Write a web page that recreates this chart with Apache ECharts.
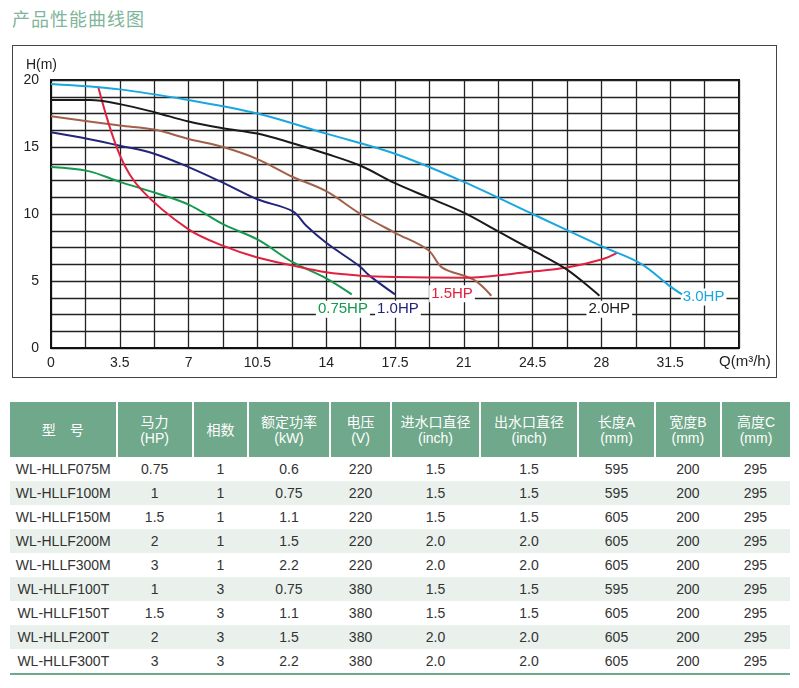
<!DOCTYPE html>
<html><head><meta charset="utf-8">
<script src="https://cdn.jsdelivr.net/npm/echarts@6/dist/echarts.min.js"></script>
<style>
body{margin:0;width:799px;height:688px;background:#fff;font-family:"Liberation Sans","Noto Sans CJK SC",sans-serif;position:relative;overflow:hidden}
#title{position:absolute;left:12px;top:5px;font-size:18px;color:#7fb59a;font-family:"Noto Sans CJK SC",sans-serif;letter-spacing:1px}
#chart{position:absolute;left:12px;top:45px;width:763px;height:331px;border:1.5px solid #444}
table{position:absolute;left:10px;top:402px;width:780px;border-collapse:collapse;font-size:14px;color:#333}
th{background:#6fa88a;color:#fff;font-weight:normal;height:53px;border-left:2px solid #fff;line-height:16px;font-family:"Liberation Sans","Noto Sans CJK SC",sans-serif}
th:first-child{border-left:none}
td{height:24px;text-align:center;padding:0}
tr.g td{background:#eaf1ed}
tbody tr:last-child td{border-bottom:2px solid #6fa88a}
</style></head><body>
<div id="title">产品性能曲线图</div>
<div id="chart"></div>
<table id="tbl"><thead><tr id="hd"></tr></thead><tbody id="bd"></tbody></table>
<script>
// Curves: [Q, H]
const hp075 = [[0,13.5],[1.9,13.2],[3.5,12.4],[5.25,11.6],[7,10.7],[8.8,9.2],[10.5,8.1],[12.3,6.4],[14,5.2],[15.3,4.0]];
const hp100 = [[0,16.1],[1.9,15.6],[3.5,15.1],[5.25,14.5],[7,13.5],[8.8,12.3],[10.5,11.1],[12.3,10.2],[13,9.1],[14,7.85],[15.7,6.1],[16.2,5.4],[17.5,4.0]];
const hp150 = [[2.4,19.5],[3.5,14.4],[4.6,11.8],[7,8.85],[8.8,7.6],[10.5,6.75],[12.3,6.15],[14,5.65],[15.75,5.4],[17.5,5.3],[21,5.25],[24.5,5.7],[26.25,6.0],[28,6.6],[28.8,7.1]];
const brown = [[0,17.3],[3.5,16.6],[5.25,16.3],[7,15.6],[8.75,15.0],[10.5,14.1],[12.25,12.8],[14,11.7],[15.75,10.0],[17.5,8.6],[19.2,7.3],[19.9,6.0],[21.5,5.1],[22.4,3.9]];
const hp200 = [[0,18.5],[2,18.5],[3.5,18.2],[5.25,17.6],[7,16.9],[8.75,16.4],[10.5,16.0],[12.25,15.3],[14,14.5],[15.75,13.6],[17.5,12.3],[19.25,11.2],[21,10.1],[22.75,8.7],[24.5,7.3],[26.25,5.85],[27.9,3.9]];
const hp300 = [[0,19.7],[3.5,19.3],[7,18.5],[10.5,17.5],[14,16.0],[17.5,14.5],[21,12.4],[24.5,10.0],[28,7.6],[30,6.3],[31.5,4.6],[32.1,4.0]];
const labelNames = ['0.75HP','1.0HP','1.5HP','2.0HP','3.0HP'];
const labelPos = [[14.85,2.9],[17.65,2.9],[20.4,4.05],[28.4,2.9],[33.2,3.8]];
const xTicks = [0,3.5,7,10.5,14,17.5,21,24.5,28,31.5];
const yTicks = [0,5,10,15,20];

const headers = ['型　号','马力<br>(HP)','相数','额定功率<br>(kW)','电压<br>(V)','进水口直径<br>(inch)','出水口直径<br>(inch)','长度A<br>(mm)','宽度B<br>(mm)','高度C<br>(mm)'];
const models = ['WL-HLLF075M','WL-HLLF100M','WL-HLLF150M','WL-HLLF200M','WL-HLLF300M','WL-HLLF100T','WL-HLLF150T','WL-HLLF200T','WL-HLLF300T'];
const power = ['0.75','1','1.5','2','3','1','1.5','2','3'];
const phase = ['1','1','1','1','1','3','3','3','3'];
const kw = ['0.6','0.75','1.1','1.5','2.2','0.75','1.1','1.5','2.2'];
const volt = ['220','220','220','220','220','380','380','380','380'];
const inlet = ['1.5','1.5','1.5','2.0','2.0','1.5','1.5','2.0','2.0'];
const outlet = ['1.5','1.5','1.5','2.0','2.0','1.5','1.5','2.0','2.0'];
const lenA = ['595','595','605','605','605','595','605','605','605'];
const widB = ['200','200','200','200','200','200','200','200','200'];
const hgtC = ['295','295','295','295','295','295','295','295','295'];
const colW = [107,76,55,82,61,89,100,76,65,69];

document.getElementById('hd').innerHTML = headers.map((h,i)=>`<th style="width:${colW[i]}px">${h}</th>`).join('');
document.getElementById('bd').innerHTML = models.map((m,i)=>`<tr class="${i%2?'g':''}">`+[m,power[i],phase[i],kw[i],volt[i],inlet[i],outlet[i],lenA[i],widB[i],hgtC[i]].map(v=>`<td>${v}</td>`).join('')+'</tr>').join('');

const colors = ['#139a4e','#22257a','#e0213f','#1a1a1a','#19a7df'];
const curves = [hp075,hp100,hp150,hp200,hp300];
const series = curves.map((d,i)=>({
  type:'line', data:d, smooth:0.35, showSymbol:false, z:5,
  lineStyle:{color:colors[i],width:2}, itemStyle:{color:colors[i]},
  markPoint:{symbol:'rect',symbolSize:1,itemStyle:{color:'transparent'},
    label:{show:true,formatter:labelNames[i],color:colors[i],fontSize:15,backgroundColor:'#fff',padding:[1,2],fontFamily:'Liberation Sans'},
    data:[{coord:labelPos[i]}]}
}));
series.push({type:'line',data:brown,smooth:0.35,showSymbol:false,z:4,lineStyle:{color:'#a2604a',width:2}});

const chart = echarts.init(document.getElementById('chart'));
chart.setOption({
  animation:false,
  grid:{left:38,top:34,right:37,bottom:29,show:true,borderColor:'#111',borderWidth:2},
  xAxis:{type:'value',min:0,max:35,interval:1.75,
    axisLine:{lineStyle:{color:'#111',width:2}},axisTick:{show:false},
    splitLine:{lineStyle:{color:'#222',width:1.3}},
    axisLabel:{color:'#222',fontSize:14,margin:8,fontFamily:'Liberation Sans',
      formatter:v=>xTicks.some(t=>Math.abs(t-v)<1e-6)?String(v):''},
    name:'Q(m³/h)',nameLocation:'end',nameGap:-20,
    nameTextStyle:{color:'#222',fontSize:15,align:'left',verticalAlign:'top',padding:[6,0,0,0],fontFamily:'Liberation Sans'}},
  yAxis:{type:'value',min:0,max:20,interval:1.25,
    axisLine:{lineStyle:{color:'#111',width:2}},axisTick:{show:false},
    splitLine:{lineStyle:{color:'#222',width:1.3}},
    axisLabel:{color:'#222',fontSize:14,margin:12,fontFamily:'Liberation Sans',
      formatter:v=>yTicks.some(t=>Math.abs(t-v)<1e-6)?String(v):''},
    name:'H(m)',nameLocation:'end',nameGap:8,
    nameTextStyle:{color:'#222',fontSize:14,align:'right',padding:[0,-6,0,0],fontFamily:'Liberation Sans'}},
  series:series
});
</script></body></html>
